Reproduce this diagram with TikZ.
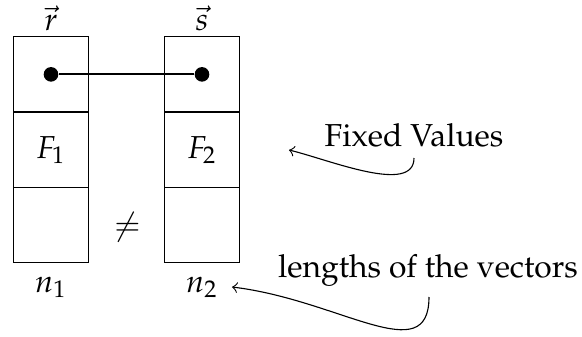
\documentclass[tikz,border=0pt]{standalone}
\usepackage[T1]{fontenc}
\usepackage{mathpazo}
\begin{document}
\begin{tikzpicture}[x=0.315pt,y=-0.315pt,
  cell/.style={draw, line width=0.35pt, minimum width=23.75pt, minimum height=23.75pt, inner sep=0pt, outer sep=0pt},
  blob/.style={circle, fill, inner sep=0pt, minimum size=4.6pt},
  lbl/.style={inner sep=0pt, anchor=base},
  note/.style={->, line width=0.35pt}]
\useasboundingbox (0,0) rectangle (582,337);
% left vector
\node[cell] (r1) at (51,74.35) {};
\node[cell] (r2) at (51,149.8) {};
\node[cell] (r3) at (51,225.2) {};
% right vector
\node[cell] (s1) at (202,74.35) {};
\node[cell] (s2) at (202,149.8) {};
\node[cell] (s3) at (202,225.2) {};
% dots and link
\node[blob] (dr) at (r1.center) {};
\node[blob] (ds) at (s1.center) {};
\draw[line width=0.7pt] (dr) -- (ds);
% labels
\node[lbl] (rl) at (51,30) {$\vec{r}$};
\node[lbl] (sl) at (202,30) {$\vec{s}$};
\node[lbl] (f1) at (51,158) {$F_1$};
\node[lbl] (f2) at (202,158) {$F_2$};
\node[inner sep=0pt] (ne) at (127,227) {$\neq$};
\node[lbl] (n1) at (51,292) {$n_1$};
\node[lbl] (n2) at (202,292) {$n_2$};
\node[lbl] (fv) at (414,146) {Fixed Values};
\node[lbl] (lv) at (428,277) {lengths of the vectors};
% annotation arrows
\coordinate (fvtail) at (414,158);
\coordinate (fvtip) at (289,150);
\coordinate (lvtail) at (429,297);
\coordinate (lvtip) at (232,287);
\draw[note] (fvtail) .. controls (414,195) and (330,160) .. (fvtip);
\draw[note] (lvtail) .. controls (429,370) and (340,300) .. (lvtip);
\end{tikzpicture}
\end{document}
